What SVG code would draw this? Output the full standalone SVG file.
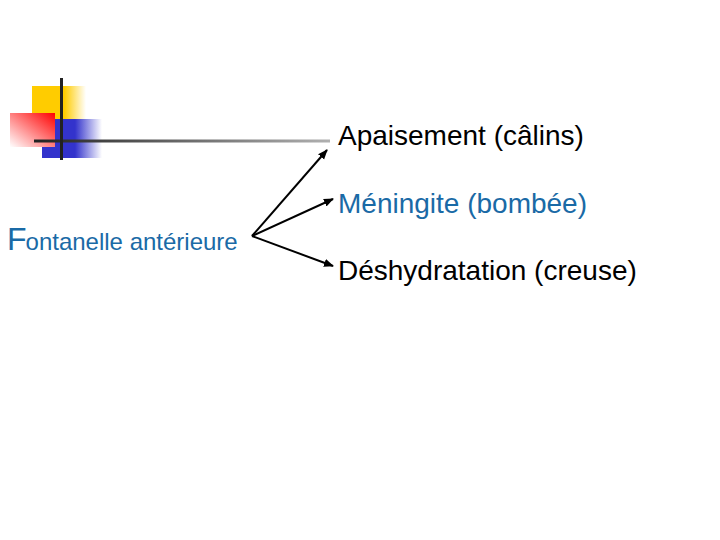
<svg xmlns="http://www.w3.org/2000/svg" width="720" height="540" viewBox="0 0 720 540">
<defs>
<linearGradient id="gy" x1="0" y1="0" x2="1" y2="0"><stop offset="0" stop-color="#ffcc00"/><stop offset="0.6" stop-color="#ffcc00"/><stop offset="1" stop-color="#ffcc00" stop-opacity="0"/></linearGradient>
<linearGradient id="gb" x1="0" y1="0" x2="1" y2="0"><stop offset="0" stop-color="#3333cc"/><stop offset="0.55" stop-color="#3333cc"/><stop offset="1" stop-color="#3333cc" stop-opacity="0"/></linearGradient>
<linearGradient id="gr" x1="1" y1="0" x2="0" y2="1"><stop offset="0" stop-color="#ff0000"/><stop offset="1" stop-color="#ffffff"/></linearGradient>
<linearGradient id="gl" x1="0" y1="0" x2="1" y2="0"><stop offset="0" stop-color="#222222"/><stop offset="1" stop-color="#b0b0b0"/></linearGradient>
<marker id="ah" viewBox="0 0 10 10" refX="9" refY="5" markerWidth="5" markerHeight="5" orient="auto"><path d="M0,1 L10,5 L0,9 Z" fill="#000"/></marker>
<style>
.t{font-family:"Liberation Sans",Arial,sans-serif;font-size:28px}
.blk{fill:#000}
.blu{fill:#1a6aa6}
.c{stroke:#000;stroke-width:2;fill:none;marker-end:url(#ah)}
</style>
</defs>
<g id="decor">
<rect x="32" y="86" width="54" height="33" fill="url(#gy)"/>
<rect x="42" y="119" width="60" height="39" fill="url(#gb)"/>
<rect x="10" y="113" width="45" height="34" fill="url(#gr)"/>
<rect x="34" y="139.5" width="296" height="3" fill="url(#gl)"/>
<rect x="60" y="78" width="3" height="82" fill="#222"/>
</g>
<g id="source"><text x="7" y="250" class="blu" style="font-family:'Liberation Sans',Arial,sans-serif"><tspan style="font-size:32px">F</tspan><tspan style="font-size:24px" dx="-1">ontanelle antérieure</tspan></text></g>
<g id="n1"><text x="338" y="145" class="t blk">Apaisement (câlins)</text></g>
<g id="n2"><text x="338" y="213" class="t blu">Méningite (bombée)</text></g>
<g id="n3"><text x="338" y="280" class="t blk">Déshydratation (creuse)</text></g>
<g id="connectors">
<line x1="252" y1="236" x2="327" y2="150" class="c"/>
<line x1="252" y1="236" x2="333" y2="199" class="c"/>
<line x1="252" y1="236" x2="333" y2="266" class="c"/>
</g>
</svg>
